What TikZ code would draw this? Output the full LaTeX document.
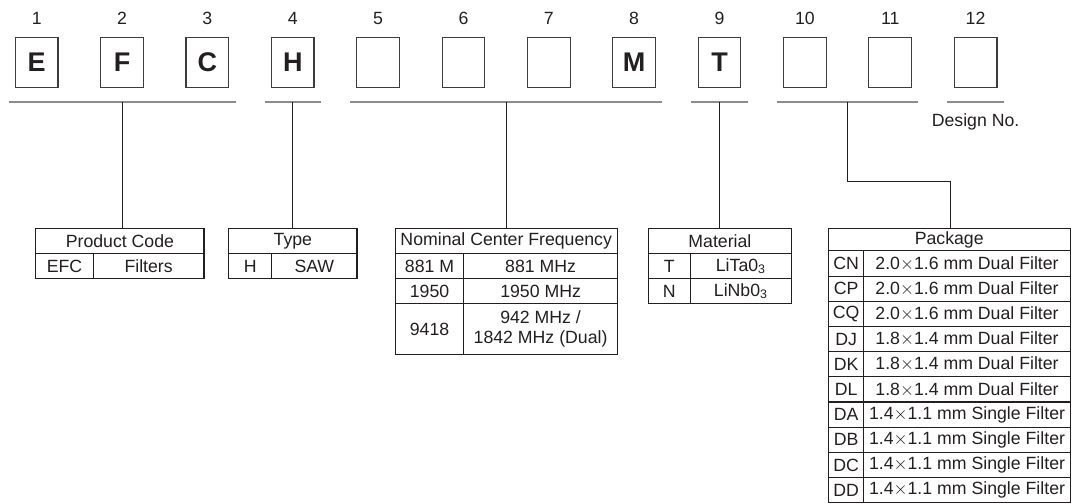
\documentclass[tikz,border=0pt]{standalone}
\usepackage{fontspec}
\setmainfont{Liberation Sans}

\definecolor{ink}{HTML}{231F20}
\definecolor{rulegray}{HTML}{8C8C8C}
\definecolor{boxline}{HTML}{3C3C3C}

\newcommand{\tabfont}{\fontsize{11.8}{13}\selectfont}
\newcommand{\keyfont}{\fontsize{18}{18}\selectfont\bfseries}
\newcommand{\by}{$\times$}

\tikzset{
  digit/.style={draw=boxline, line width=0.8pt, minimum width=1cm, minimum height=1.18cm, inner sep=0pt, font=\keyfont, text=ink},
  codenum/.style={font=\tabfont, text=ink, anchor=base, inner sep=0pt},
  uline/.style={draw=rulegray, line width=1.4pt},
  link/.style={draw=ink, line width=0.6pt},
  cell/.style={draw=ink, line width=0.7pt, outer sep=0pt, inner sep=0pt, anchor=north west, minimum height=0.59cm, font=\tabfont, text=ink, align=center},
}

\begin{document}
\begin{tikzpicture}

\useasboundingbox (0,0) rectangle (25.12,11.81);

% code positions
\node[codenum] (n1)  at (0.86,11.245)  {1};
\node[codenum] (n2)  at (2.86,11.245)  {2};
\node[codenum] (n3)  at (4.86,11.245)  {3};
\node[codenum] (n4)  at (6.86,11.245)  {4};
\node[codenum] (n5)  at (8.86,11.245)  {5};
\node[codenum] (n6)  at (10.86,11.245) {6};
\node[codenum] (n7)  at (12.86,11.245) {7};
\node[codenum] (n8)  at (14.86,11.245) {8};
\node[codenum] (n9)  at (16.86,11.245) {9};
\node[codenum] (n10) at (18.86,11.245) {10};
\node[codenum] (n11) at (20.86,11.245) {11};
\node[codenum] (n12) at (22.86,11.245) {12};

\node[digit] (b1)  at (0.86,10.35)  {E};
\node[digit] (b2)  at (2.86,10.35)  {F};
\node[digit] (b3)  at (4.86,10.35)  {C};
\node[digit] (b4)  at (6.86,10.35)  {H};
\node[digit] (b5)  at (8.86,10.35)  {};
\node[digit] (b6)  at (10.86,10.35) {};
\node[digit] (b7)  at (12.86,10.35) {};
\node[digit] (b8)  at (14.86,10.35) {M};
\node[digit] (b9)  at (16.86,10.35) {T};
\node[digit] (b10) at (18.86,10.35) {};
\node[digit] (b11) at (20.86,10.35) {};
\node[digit] (b12) at (22.86,10.35) {};

% group underlines
\draw[uline] (0.2,9.43)  -- (5.52,9.43);
\draw[uline] (6.2,9.43)  -- (7.52,9.43);
\draw[uline] (8.2,9.43)  -- (15.52,9.43);
\draw[uline] (16.2,9.43) -- (17.52,9.43);
\draw[uline] (18.2,9.43) -- (21.52,9.43);
\draw[uline] (22.2,9.43) -- (23.52,9.43);

\coordinate (u1) at (2.86,9.43);
\coordinate (u2) at (6.86,9.43);
\coordinate (u3) at (11.86,9.43);
\coordinate (u4) at (16.86,9.43);
\coordinate (u5) at (19.86,9.43);
\coordinate (bend) at (22.27,7.553);

\node[codenum] (design) at (22.86,8.841) {Design No.};

% product code
\node[cell, minimum width=3.94cm]  (pcode)   at (0.84,6.46)  {Product Code};
\node[cell, minimum width=1.345cm] (pcode-k) at (0.84,5.87)  {EFC};
\node[cell, minimum width=2.595cm] (pcode-v) at (2.185,5.87) {Filters};

% type
\node[cell, minimum width=3.005cm] (type)   at (5.36,6.46)  {Type};
\node[cell, minimum width=1.007cm] (type-k) at (5.36,5.87)  {H};
\node[cell, minimum width=1.998cm] (type-v) at (6.367,5.87) {SAW};

% nominal center frequency
\node[cell, minimum width=5.205cm] (freq) at (9.26,6.46) {Nominal Center Frequency};
\node[cell, minimum width=1.61cm]  (freq-k1) at (9.26,5.87)  {881 M};
\node[cell, minimum width=3.595cm] (freq-v1) at (10.87,5.87) {881 MHz};
\node[cell, minimum width=1.61cm]  (freq-k2) at (9.26,5.28)  {1950};
\node[cell, minimum width=3.595cm] (freq-v2) at (10.87,5.28) {1950 MHz};
\node[cell, minimum width=1.61cm, minimum height=1.18cm]  (freq-k3) at (9.26,4.69)  {9418};
\node[cell, minimum width=3.595cm, minimum height=1.18cm] (freq-v3) at (10.87,4.69) {942 MHz /\\1842 MHz (Dual)};

% material
\node[cell, minimum width=3.36cm] (mat)    at (15.19,6.46) {Material};
\node[cell, minimum width=0.98cm] (mat-k1) at (15.19,5.87) {T};
\node[cell, minimum width=2.38cm] (mat-v1) at (16.17,5.87) {LiTa0\textsubscript{3}};
\node[cell, minimum width=0.98cm] (mat-k2) at (15.19,5.28) {N};
\node[cell, minimum width=2.38cm] (mat-v2) at (16.17,5.28) {LiNb0\textsubscript{3}};

% package
\tikzset{pk/.style={cell, minimum width=0.835cm},
         pv/.style={cell, minimum width=4.83cm}}
\node[cell, minimum height=0.53cm, minimum width=5.665cm] (pack) at (19.41,6.46) {Package};
\node[pk] (pack-k1)  at (19.41,5.93) {CN}; \node[pv] (pack-v1)  at (20.245,5.93) {2.0\by1.6 mm Dual Filter};
\node[pk] (pack-k2)  at (19.41,5.34) {CP}; \node[pv] (pack-v2)  at (20.245,5.34) {2.0\by1.6 mm Dual Filter};
\node[pk] (pack-k3)  at (19.41,4.75) {CQ}; \node[pv] (pack-v3)  at (20.245,4.75) {2.0\by1.6 mm Dual Filter};
\node[pk] (pack-k4)  at (19.41,4.16) {DJ}; \node[pv] (pack-v4)  at (20.245,4.16) {1.8\by1.4 mm Dual Filter};
\node[pk] (pack-k5)  at (19.41,3.57) {DK}; \node[pv] (pack-v5)  at (20.245,3.57) {1.8\by1.4 mm Dual Filter};
\node[pk] (pack-k6)  at (19.41,2.98) {DL}; \node[pv] (pack-v6)  at (20.245,2.98) {1.8\by1.4 mm Dual Filter};
\node[pk] (pack-k7)  at (19.41,2.39) {DA}; \node[pv] (pack-v7)  at (20.245,2.39) {1.4\by1.1 mm Single Filter};
\node[pk] (pack-k8)  at (19.41,1.80) {DB}; \node[pv] (pack-v8)  at (20.245,1.80) {1.4\by1.1 mm Single Filter};
\node[pk] (pack-k9)  at (19.41,1.21) {DC}; \node[pv] (pack-v9)  at (20.245,1.21) {1.4\by1.1 mm Single Filter};
\node[pk] (pack-k10) at (19.41,0.62) {DD}; \node[pv] (pack-v10) at (20.245,0.62) {1.4\by1.1 mm Single Filter};

% connectors
\draw[link] (u1) -- (u1 |- pcode.north);
\draw[link] (u2) -- (u2 |- type.north);
\draw[link] (u3) -- (u3 |- freq.north);
\draw[link] (u4) -- (u4 |- mat.north);
\draw[link] (u5) |- (bend) -- (bend |- pack.north);

\end{tikzpicture}
\end{document}
